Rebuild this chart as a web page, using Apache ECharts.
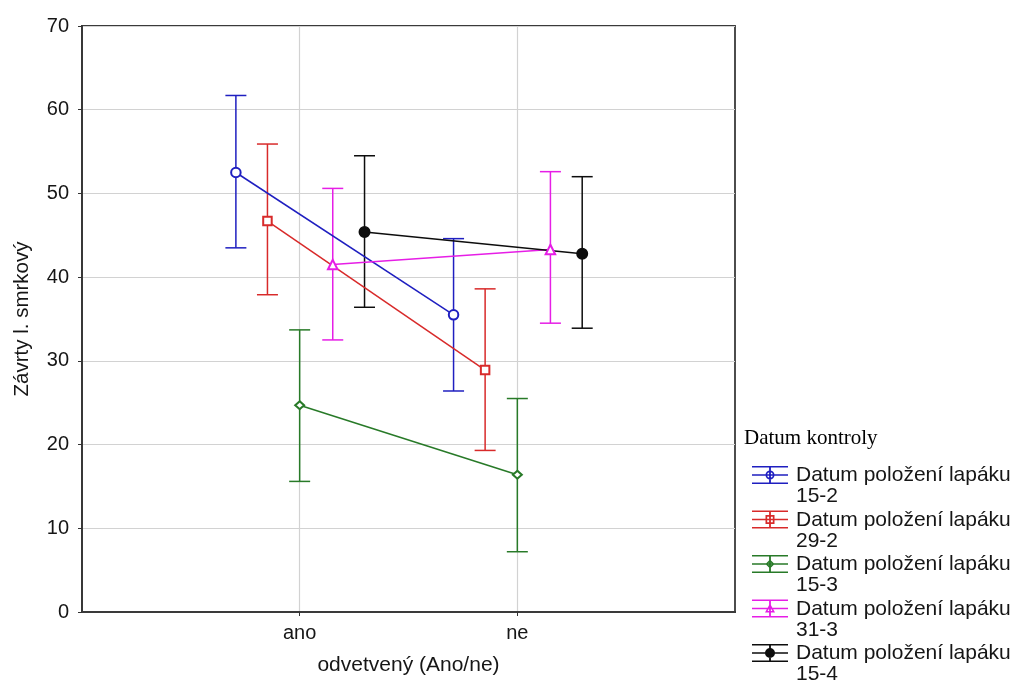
<!DOCTYPE html>
<html><head><meta charset="utf-8">
<script src="https://cdn.jsdelivr.net/npm/echarts@6/dist/echarts.min.js"></script>
<style>html,body{margin:0;padding:0;background:#fff}#c{width:1019px;height:681px}</style>
</head><body><div id="c"></div>
<script>
// ---- data ----
const categories = ['ano', 'ne'];
const groupPrefix = 'Datum položení lapáku';
const groupLabels = ['15-2', '29-2', '15-3', '31-3', '15-4'];
const yTicks = [0, 10, 20, 30, 40, 50, 60, 70];

const mean_15_2 = [52.5, 35.5];
const low_15_2  = [43.5, 26.4];
const high_15_2 = [61.7, 44.6];

const mean_29_2 = [46.7, 28.9];
const low_29_2  = [37.9, 19.3];
const high_29_2 = [55.9, 38.6];

const mean_15_3 = [24.7, 16.4];
const low_15_3  = [15.6, 7.2];
const high_15_3 = [33.7, 25.5];

const mean_31_3 = [41.5, 43.3];
const low_31_3  = [32.5, 34.5];
const high_31_3 = [50.6, 52.6];

const mean_15_4 = [45.4, 42.8];
const low_15_4  = [36.4, 33.9];
const high_15_4 = [54.5, 52.0];

const means = [mean_15_2, mean_29_2, mean_15_3, mean_31_3, mean_15_4];
const lows  = [low_15_2, low_29_2, low_15_3, low_31_3, low_15_4];
const highs = [high_15_2, high_29_2, high_15_3, high_31_3, high_15_4];

// ---- styling ----
const colors = ['#1f1fc0', '#d82a2a', '#287a28', '#e61ee6', '#0d0d0d'];
const offsets = [-0.293, -0.148, 0, 0.152, 0.298];
const symbols = ['emptyCircle', 'emptyRect', 'emptyDiamond', 'emptyTriangle', 'circle'];
const symbolSizes = [9.5, 8.5, [9, 8], 9.5, 10.5];

const bars = 'M0,0h36v1.6h-36Z M0,8.2h36v1.6h-36Z M0,16.4h36v1.6h-36Z M17.1,0h1.8v18h-1.8Z ';
const pad = ' M0,40L0.001,40L0,40Z';
const markers = [
  'M13.5,9A4.5,4.5 0 1,1 22.5,9A4.5,4.5 0 1,1 13.5,9Z M15.2,9A2.8,2.8 0 1,0 20.8,9A2.8,2.8 0 1,0 15.2,9Z',
  'M13.5,4.5h9v9h-9Z M15.2,6.2v5.6h5.6v-5.6Z',
  'M18,4.5L22.5,9L18,13.5L13.5,9Z M18,6.6L15.6,9L18,11.4L20.4,9Z',
  'M18,4L23,13L13,13Z M18,7L15.6,11.5L20.4,11.5Z',
  'M13,9A5,5 0 1,1 23,9A5,5 0 1,1 13,9Z'
];

const FONT = 'Liberation Sans, Arial, sans-serif';
const TXT = '#161616';
const names = groupLabels.map(l => groupPrefix + ' ' + l);

const series = [];
names.forEach((name, i) => {
  const c = colors[i];
  series.push({
    name: name,
    type: 'line',
    data: categories.map((_, k) => [k + 1 + offsets[i], means[i][k]]),
    symbol: symbols[i],
    symbolSize: symbolSizes[i],
    lineStyle: { color: c, width: 1.5 },
    itemStyle: { color: c, borderColor: c, borderWidth: 1.5 },
    z: 3
  });
  series.push({
    name: name,
    type: 'custom',
    data: categories.map((_, k) => [k + 1 + offsets[i], lows[i][k], highs[i][k]]),
    encode: { x: 0, y: [1, 2] },
    z: 2,
    renderItem: function (params, api) {
      const x = api.value(0);
      const p1 = api.coord([x, api.value(2)]);
      const p2 = api.coord([x, api.value(1)]);
      const w = 10.5;
      const st = { stroke: c, lineWidth: 1.5, fill: null };
      return {
        type: 'group',
        children: [
          { type: 'line', shape: { x1: p1[0], y1: p1[1], x2: p2[0], y2: p2[1] }, style: st },
          { type: 'line', shape: { x1: p1[0] - w, y1: p1[1], x2: p1[0] + w, y2: p1[1] }, style: st },
          { type: 'line', shape: { x1: p2[0] - w, y1: p2[1], x2: p2[0] + w, y2: p2[1] }, style: st }
        ]
      };
    }
  });
});

const chart = echarts.init(document.getElementById('c'), null, { renderer: 'canvas' });
chart.setOption({
  animation: false,
  backgroundColor: '#fff',
  title: {
    text: 'Datum kontroly',
    left: 744, top: 428,
    padding: 0,
    textStyle: { fontFamily: 'Liberation Serif, Times New Roman, serif', fontWeight: 'normal', fontSize: 21, color: '#000' }
  },
  grid: {
    left: 82, right: 284, top: 26, bottom: 65,
    show: true, borderColor: '#3a3a3a', borderWidth: 1.8, backgroundColor: 'transparent'
  },
  legend: {
    orient: 'vertical',
    left: 752, top: 465,
    height: 400,
    padding: 0,
    itemWidth: 36, itemHeight: 40, itemGap: 2.5,
    selectedMode: false,
    formatter: n => n.replace(/ (\S+)$/, '\n$1'),
    textStyle: { fontFamily: FONT, fontSize: 21, lineHeight: 21, color: TXT, padding: [0, 0, 0, 3] },
    data: names.map((n, i) => ({
      name: n,
      icon: 'path://' + bars + markers[i] + pad,
      itemStyle: { color: colors[i], borderWidth: 0 }
    }))
  },
  xAxis: [{
    type: 'value', min: 0, max: 3, interval: 1,
    axisLine: { show: true, lineStyle: { color: '#2e2e2e', width: 1.8 } },
    axisTick: { show: true, length: 4, customValues: [1, 2], lineStyle: { color: '#333' } },
    axisLabel: { customValues: [1, 2], formatter: v => categories[Math.round(v) - 1] || '', fontFamily: FONT, fontSize: 20, color: TXT, margin: 11 },
    splitLine: { show: true, lineStyle: { color: '#d2d2d2', width: 1.2 } },
    name: 'odvetvený (Ano/ne)', nameLocation: 'middle', nameGap: 43,
    nameTextStyle: { fontFamily: FONT, fontSize: 21, color: TXT }
  }, {
    type: 'value', min: 0, max: 3, interval: 1, position: 'top',
    axisLine: { show: true, lineStyle: { color: '#3a3a3a', width: 1.8 } },
    axisTick: { show: true, inside: true, length: 4, customValues: [1, 2], lineStyle: { color: '#333' } },
    axisLabel: { show: false }, splitLine: { show: false }
  }],
  yAxis: [{
    type: 'value', min: 0, max: 70, interval: 10,
    axisLine: { show: true, lineStyle: { color: '#2e2e2e', width: 1.8 } },
    axisTick: { show: false },
    axisLabel: { fontFamily: FONT, fontSize: 20, color: TXT, margin: 13, formatter: v => yTicks.includes(v) ? String(v) : '' },
    splitLine: { show: true, lineStyle: { color: '#d2d2d2', width: 1.2 } },
    name: 'Závrty l. smrkový', nameLocation: 'middle', nameGap: 49, nameRotate: 90,
    nameTextStyle: { fontFamily: FONT, fontSize: 20.5, color: TXT }
  }, {
    type: 'value', min: 0, max: 70, interval: 10, position: 'right',
    axisLine: { show: true, lineStyle: { color: '#3a3a3a', width: 1.8 } },
    axisTick: { show: true, inside: true, length: 4, lineStyle: { color: '#333' } },
    axisLabel: { show: false }, splitLine: { show: false }
  }],
  series: series
});
</script>
</body></html>
